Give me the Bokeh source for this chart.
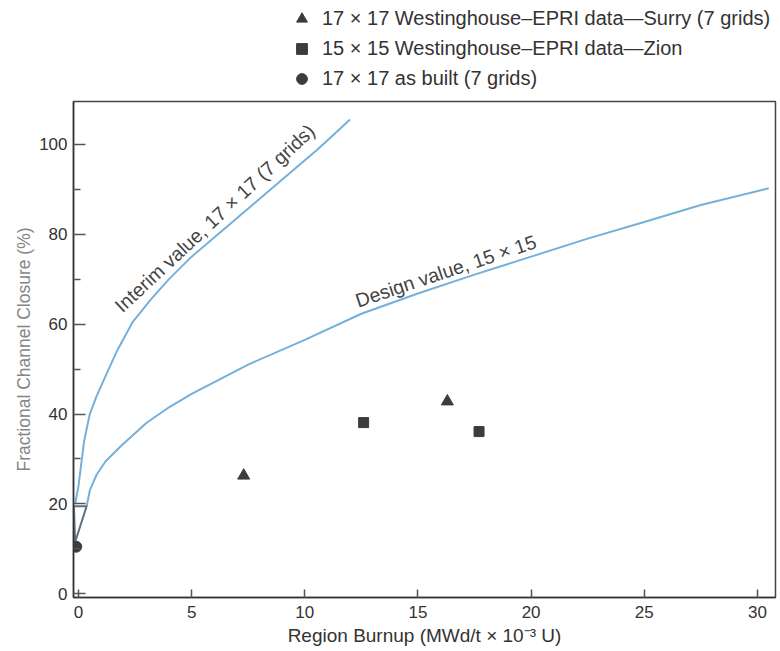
from bokeh.plotting import figure
from bokeh.layouts import column
from bokeh.models import Range1d, FixedTicker, Legend, LegendItem
from bokeh.core.properties import value
from bokeh.embed import file_html
from bokeh.resources import INLINE
import math

# ---- data ----
interim_x = [-0.15, 0.0, 0.1, 0.25, 0.5, 0.8, 1.2, 1.7, 2.4, 3.2, 4.0, 5.0, 6.4, 7.8, 9.2, 10.6, 12.0]
interim_y = [20.0, 24.0, 28.0, 34.0, 40.0, 44.0, 48.5, 54.0, 60.5, 65.5, 70.0, 75.0, 81.0, 87.0, 93.0, 99.0, 105.5]

design_x = [0.36, 0.5, 0.8, 1.2, 1.9, 3.0, 4.0, 5.0, 7.5, 10.0, 12.5, 15.0, 17.5, 20.0, 22.5, 25.0, 27.5, 30.5]
design_y = [19.5, 23.0, 26.5, 29.5, 33.0, 38.0, 41.5, 44.5, 51.0, 56.5, 62.3, 66.8, 71.0, 75.0, 79.0, 82.7, 86.5, 90.2]

wedge_x = [-0.2, 0.36, -0.15]
wedge_y = [19.5, 19.5, 11.5]

surry_x = [7.3, 16.3]
surry_y = [26.3, 42.8]
zion_x = [12.6, 17.7]
zion_y = [38.1, 36.1]
built_x = [-0.1]
built_y = [10.5]

x_ticks = [0, 5, 10, 15, 20, 25, 30]
y_ticks = [0, 20, 40, 60, 80, 100]
y_minor = [10, 30, 50, 70, 90]

legend_labels = [
    "17 \u00d7 17 Westinghouse\u2013EPRI data\u2014Surry (7 grids)",
    "15 \u00d7 15 Westinghouse\u2013EPRI data\u2014Zion",
    "17 \u00d7 17 as built (7 grids)",
]

FONT = "Liberation Sans"
BLUE = "#74b0db"
DARK = "#3c3c3c"

# ---------- main chart ----------
p = figure(width=778, height=551, output_backend="svg", toolbar_location=None,
           x_range=Range1d(-0.22, 30.8), y_range=Range1d(-0.8, 109.5),
           min_border_left=73, min_border_right=3, min_border_top=1, min_border_bottom=54)
p.background_fill_color = "white"
p.border_fill_color = "white"
p.outline_line_color = "#444444"
p.outline_line_width = 1.5
p.xgrid.visible = False
p.ygrid.visible = False

p.line(interim_x, interim_y, line_color=BLUE, line_width=2)
p.line(design_x, design_y, line_color=BLUE, line_width=2)
p.patch(wedge_x, wedge_y, fill_alpha=0, line_color="#5b7082", line_width=2)

p.scatter(surry_x, surry_y, marker="triangle", size=12, color=DARK)
p.scatter(zion_x, zion_y, marker="square", size=10, color=DARK)
p.scatter(built_x, built_y, marker="circle", size=11, color=DARK)

p.text(x=[6.02], y=[83.6], text=["Interim value, 17 \u00d7 17 (7 grids)"],
       angle=math.radians(43), text_align="center", text_baseline="alphabetic",
       text_font=value(FONT), text_font_size="19.5px", text_color="#444444")
p.text(x=[16.23], y=[71.8], text=["Design value, 15 \u00d7 15"],
       angle=math.radians(18.5), text_align="center", text_baseline="alphabetic",
       text_font=value(FONT), text_font_size="19.5px", text_color="#444444")

for ax in (p.xaxis[0], p.yaxis[0]):
    ax.axis_line_color = "#333333"
    ax.axis_line_width = 1.5
    ax.major_tick_line_color = "#555555"
    ax.major_tick_line_width = 1.5
    ax.minor_tick_line_color = "#555555"
    ax.minor_tick_line_width = 1.5
    ax.major_label_text_font = FONT
    ax.major_label_text_font_size = "17px"
    ax.major_label_text_color = "#333333"
    ax.axis_label_text_font = FONT
    ax.axis_label_text_font_style = "normal"

p.xaxis.ticker = FixedTicker(ticks=x_ticks)
p.xaxis.major_tick_in = 8
p.xaxis.major_tick_out = 0
p.xaxis.minor_tick_in = 0
p.xaxis.minor_tick_out = 0
p.xaxis.major_label_standoff = 8
p.xaxis.axis_label = "Region Burnup (MWd/t \u00d7 10\u207b\u00b3 U)"
p.xaxis.axis_label_standoff = 4
p.xaxis.axis_label_text_font_size = "19px"
p.xaxis.axis_label_text_color = "#333333"

p.yaxis.ticker = FixedTicker(ticks=y_ticks, minor_ticks=y_minor)
p.yaxis.major_tick_in = 12
p.yaxis.major_tick_out = 0
p.yaxis.minor_tick_in = 7
p.yaxis.minor_tick_out = 0
p.yaxis.major_label_standoff = 6
p.yaxis.axis_label = "Fractional Channel Closure (%)"
p.yaxis.axis_label_standoff = 2
p.yaxis.axis_label_text_font_size = "17.5px"
p.yaxis.axis_label_text_color = "#858585"

# ---------- legend strip above the chart ----------
top = figure(width=778, height=100, output_backend="svg", toolbar_location=None,
             x_axis_type=None, y_axis_type=None,
             x_range=Range1d(0, 1), y_range=Range1d(0, 1),
             min_border=0, outline_line_color=None)
top.xgrid.visible = False
top.ygrid.visible = False
# same series, drawn only as legend keys (the points fall outside this strip)
l1 = top.scatter(surry_x, surry_y, marker="triangle", color=DARK)
l2 = top.scatter(zion_x, zion_y, marker="square", color=DARK)
l3 = top.scatter(built_x, built_y, marker="circle", color=DARK)

legend = Legend(items=[LegendItem(label=legend_labels[0], renderers=[l1]),
                       LegendItem(label=legend_labels[1], renderers=[l2]),
                       LegendItem(label=legend_labels[2], renderers=[l3])],
                location=(214, 8), orientation="vertical",
                glyph_width=29, glyph_height=27, label_height=26, spacing=3,
                label_standoff=6, padding=0, margin=0,
                border_line_color=None, background_fill_alpha=0,
                label_text_font=FONT, label_text_font_size="20px",
                label_text_color="#333333")
top.add_layout(legend, "center")

layout = column(top, p, spacing=0)
open("out.html", "w").write(file_html(layout, INLINE))
